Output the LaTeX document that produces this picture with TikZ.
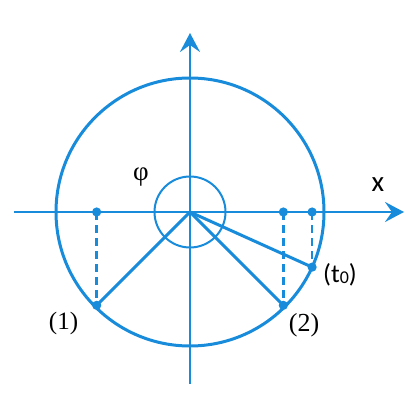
\documentclass[tikz,border=0pt]{standalone}
\usepackage{fontspec}
\newfontfamily\labfont{Carlito}
\newfontfamily\serfont{Liberation Serif}
\usetikzlibrary{arrows.meta}
\definecolor{axblue}{RGB}{24,140,218}
\begin{document}
\begin{tikzpicture}[x=1pt,y=-1pt,
  ax/.style={draw=axblue,line width=2.8pt,-{Stealth[length=19pt,width=20pt,inset=7pt]}},
  circ/.style={draw=axblue,line width=3pt},
  small/.style={draw=axblue,line width=2pt},
  radius line/.style={draw=axblue,line width=3pt},
  drop/.style={draw=axblue,line width=2.4pt,dash pattern=on 8pt off 5pt},
  dot/.style={fill=axblue},
  lab/.style={inner sep=0pt,text=black}]
\useasboundingbox (0,0) rectangle (405,404);
\coordinate (O) at (190,212);
\path (O) ++(135:132) coordinate (P1);
\path (O) ++(45:132) coordinate (P2);
\path (O) ++(24.3:134) coordinate (Pt);
\coordinate (F1) at (P1 |- O);
\coordinate (F2) at (P2 |- O);
\coordinate (Ft) at (Pt |- O);
\coordinate (Xl) at (14,212);
\coordinate (Xr) at (404,212);
\coordinate (Yb) at (190,384);
\coordinate (Yt) at (190,33);
\draw[circ] (O) circle[radius=134];
\draw[small] (O) circle[radius=35.5];
\draw[ax] (Xl) -- (Xr);
\draw[ax] (Yb) -- (Yt);
\draw[radius line] (O) -- (P1);
\draw[radius line] (O) -- (P2);
\draw[radius line] (O) -- (Pt);
\draw[drop] (F1) -- (P1);
\draw[drop] (F2) -- (P2);
\draw[drop] (Ft) -- (Pt);
\foreach \p in {P1,P2,Pt,F1,F2,Ft} \fill[dot] (\p) circle[radius=4.6];
\node[lab,font=\serfont\fontsize{27}{29}\selectfont] (phi) at (141,177) {φ};
\node[lab,font=\labfont\fontsize{29}{31}\selectfont] (xl) at (378,185) {x};
\node[lab,font=\serfont\fontsize{25}{27}\selectfont] (l1) at (63.5,323) {(1)};
\node[lab,font=\serfont\fontsize{26}{28}\selectfont] (l2) at (304,325) {(2)};
\node[lab,font=\labfont\fontsize{26}{28}\selectfont] (lt) at (340,275) {(t\raisebox{-1pt}{\fontsize{18}{20}\selectfont 0})};
\end{tikzpicture}
\end{document}
